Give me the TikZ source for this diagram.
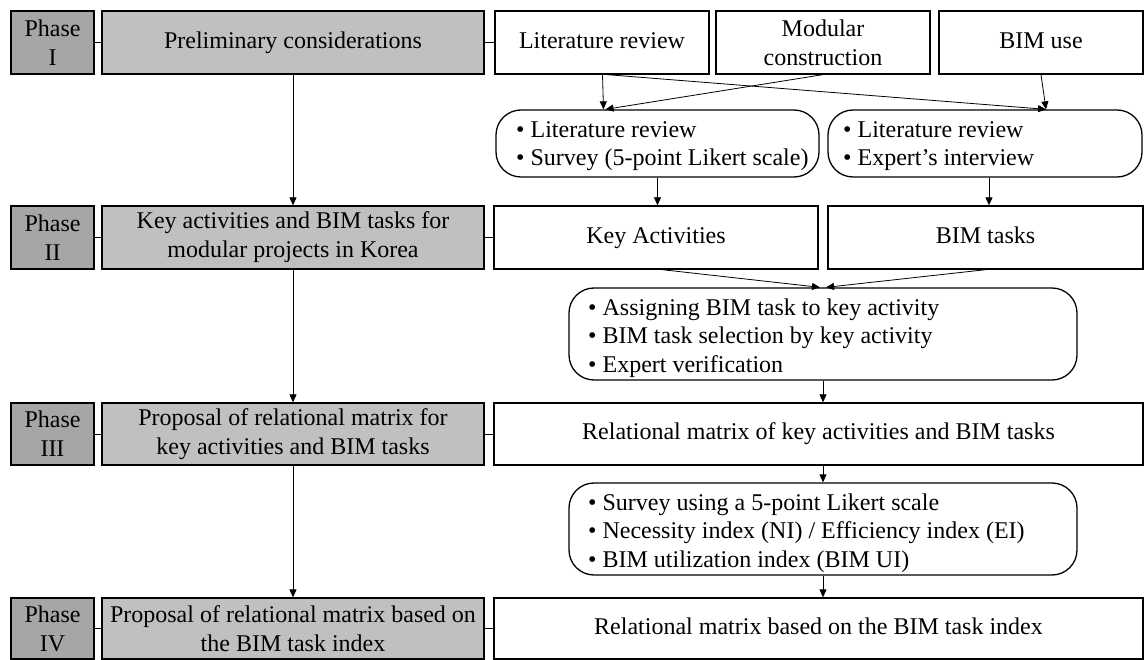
\documentclass[tikz,border=0pt]{standalone}
\usepackage{fontspec}
\setmainfont{Liberation Serif}
\usetikzlibrary{arrows.meta,calc}
\definecolor{phasegray}{RGB}{166,166,166}
\definecolor{maingray}{RGB}{192,192,192}
\newcommand\rectnode[7]{\node[#2,minimum width={#5-#3},minimum height={#6-#4}] (#1) at ({(#3+#5)/2},{(#4+#6)/2}) {#7};}
\begin{document}
\begin{tikzpicture}[x=1pt,y=-1pt,
  txt/.style={font=\fontsize{24}{29}\selectfont},
  box/.style={draw=black,line width=1.3pt,inner sep=0pt,align=center,txt},
  oneline/.style={execute at begin node={\strut}},
  phasebox/.style={box,fill=phasegray},
  mainbox/.style={box,fill=maingray},
  rbox/.style={draw=black,line width=1.3pt,inner sep=0pt,rounded corners=25pt},
  btext/.style={txt,font=\fontsize{24}{28.5}\selectfont,anchor=west,align=left,inner sep=0pt},
  conn/.style={line width=0.8pt},
  arr/.style={conn,-{Triangle[length=8pt,width=7pt]}}]
\useasboundingbox (0,0) rectangle (1144,660);
% Phase boxes
\rectnode{p1}{phasebox}{11}{11}{94}{74}{Phase\\I}
\rectnode{p2}{phasebox}{11}{206}{94}{269}{Phase\\II}
\rectnode{p3}{phasebox}{11}{403}{94}{465}{Phase\\III}
\rectnode{p4}{phasebox}{11}{598}{94}{659}{Phase\\IV}
% Main gray boxes
\rectnode{g1}{mainbox,oneline}{102}{11}{484}{74}{Preliminary considerations}
\rectnode{g2}{mainbox}{102}{206}{484}{269}{Key activities and BIM tasks for\\modular projects in Korea}
\rectnode{g3}{mainbox}{102}{403}{484}{465}{Proposal of relational matrix for\\key activities and BIM tasks}
\rectnode{g4}{mainbox}{102}{598}{484}{659}{Proposal of relational matrix based on\\the BIM task index}
% Right boxes
\rectnode{lit}{box,oneline}{495}{11}{709}{74}{Literature review}
\rectnode{mod}{box}{716}{11}{930}{74}{Modular\\construction}
\rectnode{bim}{box,oneline}{939}{11}{1143}{74}{BIM use}
\rectnode{ka}{box,oneline}{494}{206}{818}{269}{Key Activities}
\rectnode{bt}{box,oneline}{828}{206}{1143}{269}{BIM tasks}
\rectnode{rm}{box,oneline}{494}{403}{1143}{465}{Relational matrix of key activities and BIM tasks}
\rectnode{rm2}{box,oneline}{494}{598}{1143}{659}{Relational matrix based on the BIM task index}
% Rounded boxes
\rectnode{rb1}{rbox}{496}{110}{819}{177}{}
\rectnode{rb2}{rbox}{828}{110}{1142}{177}{}
\rectnode{rb3}{rbox}{569}{288}{1077}{380}{}
\rectnode{rb4}{rbox}{569}{483}{1077}{575}{}
\node[btext] (t1) at (516,146) {• Literature review\\• Survey (5-point Likert scale)};
\node[btext] (t2) at (843,146) {• Literature review\\• Expert’s interview};
\node[btext] (t3) at (588,338) {• Assigning BIM task to key activity\\• BIM task selection by key activity\\• Expert verification};
\node[btext] (t4) at (588,533) {• Survey using a 5-point Likert scale\\• Necessity index (NI) / Efficiency index (EI)\\• BIM utilization index (BIM UI)};
% Horizontal connectors
\foreach \p/\g/\r in {p1/g1/lit,p2/g2/ka,p3/g3/rm,p4/g4/rm2}{
  \draw[conn] (\p.east) -- (\g.west);
  \draw[conn] (\g.east) -- (\r.west);
}
% Main vertical arrows
\draw[arr] (g1.south) -- (g2.north);
\draw[arr] (g2.south) -- (g3.north);
\draw[arr] (g3.south) -- (g4.north);
% Top crossing arrows
\draw[arr] ($(lit.south)+(0.5,0)$) -- ($(rb1.north)+(-54,0)$);
\draw[arr] (mod.south) -- ($(rb1.north)+(-52,0)$);
\draw[arr] ($(lit.south)+(5,0)$) -- ($(rb2.north)+(61,0)$);
\draw[arr] ($(bim.south)+(0,0)$) -- ($(rb2.north)+(61,0)$);
% From rounded boxes to row 2
\draw[arr] (rb1.south) -- (rb1.south |- ka.north);
\coordinate (c2) at ($(rb2.south)+(4,0)$);
\draw[arr] (c2) -- (c2 |- bt.north);
% Row 2 to rb3
\draw[arr] ($(ka.south)+(6,0)$) -- ($(rb3.north)+(-3,0)$);
\draw[arr] ($(bt.south)+(0.5,0)$) -- ($(rb3.north)+(3,0)$);
% Lower chain
\draw[arr] (rb3.south) -- (rb3.south |- rm.north);
\draw[arr] (rb3.south |- rm.south) -- (rb4.north);
\draw[arr] (rb4.south) -- (rb4.south |- rm2.north);
\end{tikzpicture}
\end{document}
